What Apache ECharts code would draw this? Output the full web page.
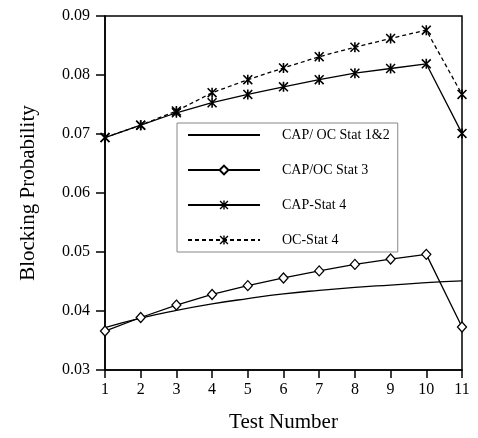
<!DOCTYPE html>
<html><head><meta charset="utf-8">
<script src="https://cdn.jsdelivr.net/npm/echarts@6/dist/echarts.min.js"></script>
<style>html,body{margin:0;padding:0;background:#fff}#c{width:478px;height:438px}</style>
</head><body><div id="c"></div>
<script>
var testNumbers = [1,2,3,4,5,6,7,8,9,10,11];
var stat12 = [0.0372,0.0388,0.0401,0.0412,0.0421,0.0429,0.0435,0.0440,0.0444,0.0448,0.0451];
var stat3  = [0.0366,0.0389,0.0410,0.0428,0.0443,0.0456,0.0468,0.0479,0.0488,0.0496,0.0373];
var capStat4 = [0.0694,0.0715,0.0736,0.0753,0.0767,0.0780,0.0792,0.0803,0.0811,0.0819,0.0701];
var ocStat4  = [0.0694,0.0715,0.0739,0.0770,0.0792,0.0812,0.0831,0.0847,0.0862,0.0876,0.0767];
var seriesNames = ['CAP/ OC Stat 1&2','CAP/OC Stat 3','CAP-Stat 4','OC-Stat 4'];

function pairs(v){ return testNumbers.map(function(x,i){ return [x, v[i]]; }); }
var FONT = 'Liberation Serif';
var star = 'path://M4.2 0 L5.8 0 L5.8 10 L4.2 10 Z M1.1 0 L10 8.9 L8.9 10 L0 1.1 Z M8.9 0 L10 1.1 L1.1 10 L0 8.9 Z';
var lineW = 1.3;

var chart = echarts.init(document.getElementById('c'), null, {renderer:'canvas'});
chart.setOption({
  animation: false,
  backgroundColor: '#fff',
  grid: {left:105, right:16, top:16, bottom:66, show:true, borderColor:'#000', borderWidth:1.5},
  legend: {
    orient:'vertical', left:177, top:123, padding:[5,8,5,10],
    itemWidth:72, itemHeight:11, itemGap:21,
    borderColor:'#888', borderWidth:1, backgroundColor:'#fff',
    textStyle:{fontFamily:FONT, fontSize:14, color:'#000', padding:[0,0,0,17]},
    data: [
      {name:seriesNames[0], itemStyle:{opacity:0}},
      seriesNames[1], seriesNames[2], seriesNames[3]
    ]
  },
  xAxis: {
    type:'value', min:1, max:11, interval:1,
    name:'Test Number', nameLocation:'middle', nameGap:42,
    nameTextStyle:{fontFamily:FONT, fontSize:21, color:'#000'},
    axisLine:{lineStyle:{color:'#000', width:1.5}},
    axisTick:{show:true, length:8, lineStyle:{color:'#000', width:1.5}},
    axisLabel:{fontFamily:FONT, fontSize:16, color:'#000', margin:12},
    splitLine:{show:false}
  },
  yAxis: {
    type:'value', min:0.03, max:0.09, interval:0.01,
    name:'Blocking Probability', nameLocation:'middle', nameGap:66,
    nameTextStyle:{fontFamily:FONT, fontSize:21, color:'#000'},
    axisLine:{show:true, lineStyle:{color:'#000', width:1.5}},
    axisTick:{show:true, length:9, lineStyle:{color:'#000', width:1.5}},
    axisLabel:{fontFamily:FONT, fontSize:16, color:'#000', margin:15,
      formatter:function(v){ return v.toFixed(2); }},
    splitLine:{show:false}
  },
  series: [
    {name:seriesNames[0], type:'line', data:pairs(stat12), smooth:true, symbol:'none',
     lineStyle:{color:'#000', width:lineW}, itemStyle:{color:'#000'}},
    {name:seriesNames[1], type:'line', data:pairs(stat3), symbol:'diamond', symbolSize:[9,10],
     lineStyle:{color:'#000', width:lineW}, itemStyle:{color:'#fff', borderColor:'#000', borderWidth:1.3}},
    {name:seriesNames[2], type:'line', data:pairs(capStat4), symbol:star, symbolSize:10,
     lineStyle:{color:'#000', width:lineW}, itemStyle:{color:'#000'}},
    {name:seriesNames[3], type:'line', data:pairs(ocStat4), symbol:star, symbolSize:10,
     lineStyle:{color:'#000', width:lineW, type:[4,3]}, itemStyle:{color:'#000'}}
  ]
});
</script></body></html>
